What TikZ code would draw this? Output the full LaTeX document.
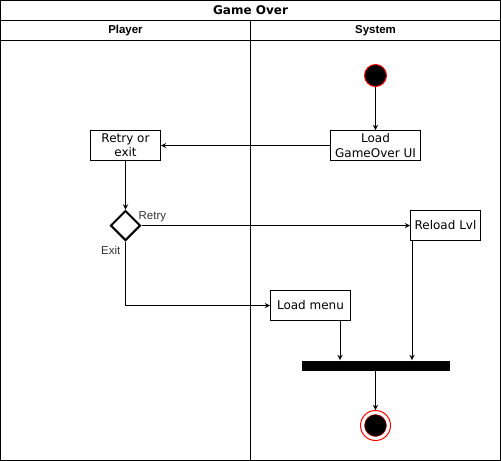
\documentclass[tikz,border=0pt]{standalone}
\usepackage{fontspec}
\setmainfont{Liberation Sans}
\newfontfamily\dejavu{DejaVu Sans}
\usepackage{tikz}
\usetikzlibrary{positioning, calc, arrows, shapes}
\tikzset{>=stealth}

\newcommand{\boxfont}{\dejavu\fontsize{9}{10.8}\selectfont}
\newcommand{\lblfont}{\fontsize{8.6}{10}\selectfont}

\begin{document}
\begin{tikzpicture}
    [x=0.75pt, y=-0.75pt, line width=0.75pt,
      act/.style={draw, font=\boxfont, align=center, inner sep=0pt,
        minimum height=22.5pt},
      lane/.style={font=\fontsize{8.6}{10}\selectfont\bfseries},
      lbl/.style={font=\lblfont, text=black!80, inner sep=0pt}]

    \useasboundingbox (-0.5,-0.5) rectangle (500.5,460.5);

    % pool and lanes
    \draw (0,0) rectangle (500,460);
    \draw (0,20) -- (500,20);
    \draw (0,40) -- (500,40);
    \draw (250,20) -- (250,460);
    \node[font=\dejavu\bfseries\fontsize{9}{10}\selectfont] (pool) at (250,10) {Game Over};
    \node[lane] (player) at (125,30) {Player};
    \node[lane] (system) at (375,30) {System};

    % activities
    \node[circle, draw=red, fill=black, minimum size=16.5pt, inner sep=0pt] (start) at (375,75) {};
    \node[act, minimum width=67.5pt] (loadui) at (375,145) {Load\\GameOver UI};
    \node[act, minimum width=52.5pt] (retry) at (125,145) {Retry or\\exit};
    \node[diamond, draw, line width=1.5pt, aspect=1, minimum size=22.5pt, inner sep=0pt] (choice) at (125,225) {};
    \node[act, minimum width=52.5pt] (reload) at (445,225) {Reload Lvl};
    \node[act, minimum width=60pt] (menu) at (310,305) {Load menu};
    \node[rectangle, fill=black, minimum width=111pt, minimum height=7.5pt, inner sep=0pt] (bar) at (375,365) {};
    \node[circle, draw=red, minimum size=22.5pt, inner sep=0pt,
      path picture={\filldraw[fill=black, draw=red!70!black, line width=0.4pt]
        (path picture bounding box.center) circle (8.2pt);}] (end) at (375,425) {};

    % flows
    \draw[->] (start) -- (loadui);
    \draw[->] (loadui) -- (retry);
    \draw[->] (retry) -- (choice);
    \draw[->] (choice.east) -- node[lbl, pos=0, anchor=south west, xshift=-2.5pt, yshift=2.5pt] {Retry} (reload.west);
    \draw[->] (choice.south) |- node[lbl, pos=0, anchor=north east, xshift=-3.5pt, yshift=-3pt] {Exit} (menu.west);
    \draw[->] ([xshift=-8.25pt]menu.south east) -- ([xshift=-8.25pt]menu.south east |- bar.north);
    \draw[->] ([xshift=1.5pt]reload.south west) -- ([xshift=1.5pt]reload.south west |- bar.north);
    \draw[->] (bar) -- (end);
  \end{tikzpicture}
\end{document}
